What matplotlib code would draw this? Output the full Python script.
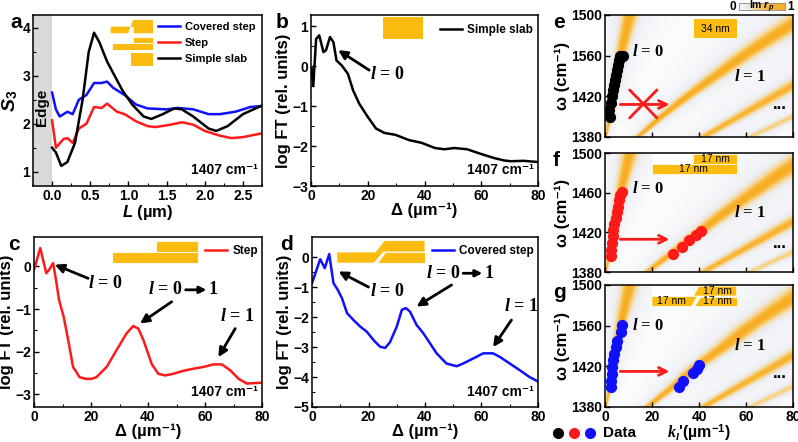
import numpy as np
import matplotlib
matplotlib.use("Agg")
import matplotlib.pyplot as plt
from matplotlib.colors import LinearSegmentedColormap
from matplotlib.patches import Rectangle, Polygon
from matplotlib.lines import Line2D

plt.rcParams['font.family'] = ['Liberation Sans', 'DejaVu Sans']
plt.rcParams['font.weight'] = 'bold'
plt.rcParams['axes.labelweight'] = 'bold'
plt.rcParams['mathtext.fontset'] = 'custom'
plt.rcParams['mathtext.it'] = 'Liberation Serif:bold:italic'
plt.rcParams['mathtext.rm'] = 'Liberation Serif:bold'
plt.rcParams['mathtext.bf'] = 'Liberation Sans:bold'
plt.rcParams['mathtext.sf'] = 'Liberation Sans:bold:italic'
plt.rcParams['axes.linewidth'] = 1.1

ORANGE = '#fbbb0f'

# ---- panel a: S3 vs L
blue_L = [0.0, 0.05, 0.1, 0.2, 0.27, 0.35, 0.45, 0.55, 0.65, 0.72, 0.8, 0.95, 1.1, 1.25, 1.5, 1.65, 1.85, 2.05, 2.2, 2.4, 2.6, 2.75]
blue_S = [2.65, 2.3, 2.15, 2.25, 2.2, 2.5, 2.6, 2.85, 2.85, 2.88, 2.75, 2.6, 2.4, 2.32, 2.3, 2.33, 2.3, 2.2, 2.2, 2.25, 2.35, 2.37]
red_L = [0.0, 0.05, 0.15, 0.2, 0.27, 0.35, 0.45, 0.55, 0.65, 0.72, 0.85, 0.95, 1.1, 1.25, 1.35, 1.55, 1.7, 1.85, 2.0, 2.2, 2.35, 2.5, 2.75]
red_S = [2.07, 1.5, 1.68, 1.7, 1.6, 1.9, 2.0, 2.35, 2.33, 2.42, 2.25, 2.2, 2.05, 1.95, 1.93, 1.98, 2.03, 1.98, 1.85, 1.75, 1.7, 1.72, 1.8]
black_L = [0.0, 0.05, 0.12, 0.2, 0.3, 0.4, 0.48, 0.55, 0.62, 0.72, 0.82, 0.92, 1.05, 1.2, 1.3, 1.45, 1.6, 1.7, 1.85, 2.05, 2.15, 2.3, 2.5, 2.75]
black_S = [1.5, 1.4, 1.12, 1.2, 1.6, 2.5, 3.5, 3.9, 3.7, 3.3, 3.0, 2.7, 2.4, 2.15, 2.1, 2.2, 2.32, 2.3, 2.15, 1.9, 1.85, 1.95, 2.2, 2.38]

# ---- panel b: simple slab FT
b_x = [0.2, 0.8, 1.8, 2.9, 4.4, 5.3, 6.7, 7.9, 9.0, 10.8, 13.0, 14.8, 17.0, 20.0, 22.9, 25.8, 29.8, 34.5, 39.0, 43.7, 47.0, 50.6, 55.0, 60.0, 64.5, 68.0, 70.3, 75.0, 80.0]
b_y = [-0.05, -0.5, 0.68, 0.77, 0.35, 0.4, 0.73, 0.6, 0.14, 0.02, -0.19, -0.6, -0.94, -1.27, -1.56, -1.67, -1.72, -1.85, -1.92, -2.05, -2.08, -2.05, -2.08, -2.2, -2.3, -2.36, -2.38, -2.37, -2.4]

# ---- panel c: step FT
c_x = [0, 2.2, 4.3, 5.3, 6.7, 7.6, 8.8, 10.4, 12.0, 13.7, 16.0, 18.2, 20.2, 21.9, 25.5, 29.0, 32.5, 34.8, 36.6, 38.4, 41.3, 43.6, 46.0, 48.9, 52.4, 56.0, 59.5, 63.0, 65.9, 68.9, 71.8, 74.7, 80.0]
c_y = [-0.08, 0.43, -0.16, -0.08, 0.08, -0.27, -0.79, -1.18, -1.73, -2.36, -2.6, -2.64, -2.64, -2.6, -2.36, -1.96, -1.57, -1.4, -1.46, -1.73, -2.29, -2.52, -2.56, -2.52, -2.45, -2.4, -2.36, -2.3, -2.3, -2.44, -2.64, -2.75, -2.73]

# ---- panel d: covered step FT
d_x = [0, 1.2, 2.9, 4.5, 6.1, 7.6, 9.1, 10.6, 12.4, 14.7, 17.1, 19.4, 21.8, 24.1, 25.9, 27.6, 30.0, 31.8, 33.2, 34.7, 37.0, 39.4, 41.8, 44.1, 47.6, 51.2, 53.5, 57.1, 60.6, 64.1, 66.5, 70.0, 73.5, 77.0, 80.0]
d_y = [-0.87, -0.54, -0.07, -0.37, 0.1, -0.87, -1.09, -1.37, -1.87, -2.1, -2.32, -2.49, -2.77, -2.99, -3.03, -2.84, -2.32, -1.76, -1.7, -1.82, -2.26, -2.54, -2.88, -3.21, -3.55, -3.64, -3.55, -3.38, -3.21, -3.21, -3.33, -3.55, -3.77, -4.0, -4.15]

# ---- panels e-g: mode band centres (k vs omega) and measured points
band_w = [1380, 1400, 1420, 1440, 1460, 1480, 1500]
l0_k = [0.3, 2.0, 3.4, 4.8, 6.5, 8.5, 10.5]
l1_k_e = [14, 24, 35, 47, 59, 72, 86]
l1_k_f = [18, 29, 40, 51, 63, 75, 88]
l1_k_g = [18, 29, 39, 51, 62, 75, 88]
l2_k = [42, 57, 72, 87, 102, 117, 132]
l3_k = [62, 80, 98, 116, 134, 152, 170]

e_k0 = [2.1, 1.8, 2.4, 2.8, 3.3, 3.7, 4.1, 4.5, 5.1, 5.5, 6.0, 6.4, 7.8]
e_w0 = [1399.7, 1406.9, 1413.4, 1419.9, 1425.8, 1431.4, 1436.3, 1441.2, 1446.1, 1451.0, 1455.9, 1459.2, 1459.8]
f_k0 = [2.4, 2.4, 2.8, 3.3, 3.6, 4.0, 4.5, 5.0, 5.4, 5.8, 6.4, 7.1]
f_w0 = [1396, 1402, 1409, 1416, 1422.5, 1428, 1434, 1440.5, 1445.7, 1452.6, 1457.8, 1461]
f_k1 = [29.1, 32.7, 35.9, 38.8, 40.9]
f_w1 = [1398, 1405, 1412, 1417, 1421]
g_k0 = [2.4, 2.4, 2.8, 3.1, 3.6, 4.0, 4.5, 5.0, 6.7, 7.4]
g_w0 = [1399.6, 1406, 1412.7, 1419, 1425.8, 1432, 1439, 1445, 1453.5, 1460.7]
g_k1 = [31.4, 33.4, 37.4, 39.1, 40.2]
g_w1 = [1399.6, 1406, 1413, 1417.6, 1421.8]

W_TICKS = [1380, 1420, 1460, 1500]
e_wlabels = ['1380', '1420', '1560', '1500']
f_wlabels = ['1380', '1420', '1460', '1500']
g_wlabels = ['1380', '1420', '1560', '1500']

fig = plt.figure(figsize=(7.98, 4.42), dpi=100)

def style(ax):
    ax.tick_params(direction='in', length=3.5, width=1, labelsize=10, pad=2)
    ax.tick_params(which='minor', direction='in', length=2, width=0.8)
    for lab in ax.get_xticklabels() + ax.get_yticklabels():
        lab.set_fontweight('bold')

def l_text(ax, x, y, s, size=13):
    ax.text(x, y, s, fontsize=size, family='Liberation Serif', fontweight='bold', ha='center', va='center')

def arrow(ax, tail, head, lw=2, ms=13):
    ax.annotate('', xy=head, xytext=tail,
                arrowprops=dict(arrowstyle='-|>', color='k', lw=lw, mutation_scale=ms, shrinkA=0, shrinkB=0))

def l01_text(ax, x0, x1, x2, x3, y):
    # "l = 0 -> 1" built from two texts and a drawn arrow
    l_text(ax, x0, y, '$l$ = 0')
    arrow(ax, (x1, y), (x2, y), lw=2, ms=10)
    l_text(ax, x3, y, '1')

def legend_at(ax, x, y, fs=8.5, hl=1.9, sp=0.45):
    ax.legend(loc='center left', bbox_to_anchor=(x, y), frameon=False, fontsize=fs,
              handlelength=hl, handletextpad=0.4, borderpad=0, borderaxespad=0, labelspacing=sp)

# ================= a
ax = fig.add_axes([33/798, 1-186/442, 229/798, 171/442])
ax.axvspan(-0.25, 0, color='#d9d9d9', lw=0)
ax.plot(blue_L, blue_S, color='#1010ff', lw=1.8, label='Covered step')
ax.plot(red_L, red_S, color='#ff1a1a', lw=1.8, label='Step')
ax.plot(black_L, black_S, color='k', lw=1.8, label='Simple slab')
ax.set_xlim(-0.25, 2.75)
ax.set_ylim(0.7, 4.27)
ax.set_xticks([0, 0.5, 1.0, 1.5, 2.0, 2.5])
ax.set_xticklabels(['0.0', '0.5', '1.0', '1.5', '2.0', '2.5'])
ax.set_yticks([1, 2, 3, 4])
ax.set_xticks(np.arange(-0.25, 2.76, 0.25), minor=True)
ax.set_yticks([1.5, 2.5, 3.5], minor=True)
ax.set_xlabel('$\\mathsf{L}$ (µm)', fontsize=12, labelpad=0)
ax.set_ylabel('$\\mathsf{S}_{\\mathbf{3}}$', fontsize=14, labelpad=2)
ax.text(-0.13, 2.35, 'Edge', rotation=90, fontsize=11, ha='center', va='center')
ax.text(0.98, 0.05, '1407 cm⁻¹', transform=ax.transAxes, ha='right', va='bottom', fontsize=10)
legend_at(ax, 0.546, 0.838, fs=8, hl=2.0, sp=0.55)
# schematic icons
tr = ax.transAxes
ax.add_patch(Polygon([(0.339, 0.893), (0.415, 0.893), (0.437, 0.971), (0.524, 0.971), (0.524, 0.893),
                      (0.44, 0.893), (0.44, 0.93), (0.42, 0.932), (0.339, 0.932)],
                     closed=True, transform=tr, color=ORANGE, lw=0))
ax.add_patch(Rectangle((0.346, 0.796), 0.178, 0.043, transform=tr, fc=ORANGE, ec='white', lw=0.6))
ax.add_patch(Rectangle((0.437, 0.839), 0.087, 0.035, transform=tr, fc=ORANGE, ec='white', lw=0.6))
ax.add_patch(Rectangle((0.426, 0.699), 0.098, 0.078, transform=tr, fc=ORANGE, lw=0))
style(ax)
fig.text(10/798, 1-22/442, 'a', fontsize=15, fontweight='bold', va='center')

# ================= b
ax = fig.add_axes([311/798, 1-186/442, 227/798, 171/442])
ax.plot(b_x, b_y, color='k', lw=1.8, label='Simple slab')
ax.set_xlim(0, 80)
ax.set_ylim(-3, 1.28)
ax.set_xticks([0, 20, 40, 60, 80])
ax.set_xticks([10, 30, 50, 70], minor=True)
ax.set_yticks([-3, -2, -1, 0, 1])
ax.set_yticks([-2.5, -1.5, -0.5, 0.5], minor=True)
ax.set_xlabel('Δ (µm⁻¹)', fontsize=12, labelpad=0)
ax.set_ylabel('log FT (rel. units)', fontsize=12, labelpad=1)
ax.add_patch(Rectangle((25.2, 0.67), 14.1, 0.56, fc=ORANGE, lw=0))
legend_at(ax, 0.568, 0.912)
arrow(ax, (20.5, -0.1), (9.6, 0.4))
l_text(ax, 27, -0.2, '$l$ = 0')
ax.text(0.98, 0.05, '1407 cm⁻¹', transform=ax.transAxes, ha='right', va='bottom', fontsize=10)
style(ax)
fig.text(276/798, 1-22/442, 'b', fontsize=15, fontweight='bold', va='center')

# ================= c
ax = fig.add_axes([34/798, 1-407/442, 228/798, 170/442])
ax.plot(c_x, c_y, color='#ff1a1a', lw=1.8, label='Step')
ax.set_xlim(0, 80)
ax.set_ylim(-3.3, 0.69)
ax.set_xticks([0, 20, 40, 60, 80])
ax.set_xticks([10, 30, 50, 70], minor=True)
ax.set_yticks([-3, -2, -1, 0])
ax.set_yticks([-2.5, -1.5, -0.5], minor=True)
ax.set_xlabel('Δ (µm⁻¹)', fontsize=12, labelpad=0)
ax.set_ylabel('log FT (rel. units)', fontsize=12, labelpad=1)
ax.add_patch(Rectangle((27.4, 0.09), 30, 0.25, fc=ORANGE, ec='white', lw=0.6))
ax.add_patch(Rectangle((42.7, 0.34), 14.7, 0.26, fc=ORANGE, ec='white', lw=0.6))
legend_at(ax, 0.75, 0.915)
arrow(ax, (19, -0.28), (7.3, 0.04))
l_text(ax, 24.9, -0.4, '$l$ = 0')
arrow(ax, (48.3, -0.83), (37.2, -1.34))
l01_text(ax, 46.0, 53.2, 60.5, 62.8, -0.55)
arrow(ax, (70.6, -1.46), (64.7, -2.13))
l_text(ax, 71.2, -1.18, '$l$ = 1')
ax.text(0.98, 0.05, '1407 cm⁻¹', transform=ax.transAxes, ha='right', va='bottom', fontsize=10)
style(ax)
fig.text(8/798, 1-245/442, 'c', fontsize=15, fontweight='bold', va='center')

# ================= d
ax = fig.add_axes([312/798, 1-407/442, 226/798, 170/442])
ax.plot(d_x, d_y, color='#1010ff', lw=1.8, label='Covered step')
ax.set_xlim(0, 80)
ax.set_ylim(-5, 0.67)
ax.set_xticks([0, 20, 40, 60, 80])
ax.set_xticks([10, 30, 50, 70], minor=True)
ax.set_yticks([-5, -4, -3, -2, -1, 0])
ax.set_yticks([-4.5, -3.5, -2.5, -1.5, -0.5], minor=True)
ax.set_xlabel('Δ (µm⁻¹)', fontsize=12, labelpad=0)
ax.set_ylabel('log FT (rel. units)', fontsize=12, labelpad=1)
ax.add_patch(Polygon([(8.8, -0.2), (22.0, -0.2), (25.3, 0.17), (40, 0.17), (40, 0.55), (25.6, 0.55),
                      (22.4, 0.17), (8.8, 0.17)], closed=True, fc=ORANGE, ec='white', lw=0.6))
ax.add_patch(Polygon([(23.0, -0.2), (40, -0.2), (40, 0.17), (26.0, 0.17)], closed=True,
                     fc=ORANGE, ec='white', lw=0.6))
legend_at(ax, 0.531, 0.918)
arrow(ax, (20, -1.0), (9.4, -0.48))
l_text(ax, 26.5, -1.15, '$l$ = 0')
arrow(ax, (49.4, -0.93), (37, -1.65))
l01_text(ax, 46.3, 53.5, 60.3, 62.5, -0.54)
arrow(ax, (70.6, -2.1), (64.1, -3.0))
l_text(ax, 74, -1.65, '$l$ = 1')
ax.text(0.98, 0.05, '1407 cm⁻¹', transform=ax.transAxes, ha='right', va='bottom', fontsize=10)
style(ax)
fig.text(280/798, 1-245/442, 'd', fontsize=15, fontweight='bold', va='center')

# ================= e, f, g
cmap = LinearSegmentedColormap.from_list('imrp', [(0, '#ffffff'), (0.04, '#f4f6f9'), (0.15, '#eceef2'),
                                                  (0.35, '#f6d690'), (0.6, '#f8b83c'), (1, '#f7ad22')])
k_grid = np.linspace(0, 80, 500)
w_grid = np.linspace(1380, 1500, 300)
K = k_grid[None, :]

def band_map(l1_k):
    img = np.zeros((len(w_grid), len(k_grid)))
    for kc_list, rel, amp in [(l0_k, 0.18, 1.0), (l1_k, 0.05, 1.0), (l2_k, 0.04, 0.75), (l3_k, 0.035, 0.4)]:
        kc = np.interp(w_grid, band_w, kc_list)[:, None]
        hw = rel * kc + 0.25
        img += amp / (1 + ((K - kc) / hw) ** 2)
    return np.clip(img, 0, 1)

def dispersion(rect, l1_k, labels, letter, ly):
    ax = fig.add_axes(rect)
    ax.imshow(band_map(l1_k), extent=[0, 80, 1380, 1500], origin='lower', aspect='auto',
              cmap=cmap, vmin=0, vmax=1, interpolation='bilinear')
    ax.set_xlim(0, 80)
    ax.set_ylim(1380, 1500)
    ax.set_xticks([0, 20, 40, 60, 80])
    ax.set_yticks(W_TICKS)
    ax.set_yticklabels(labels)
    ax.set_ylabel('ω (cm⁻¹)', fontsize=12, labelpad=1)
    style(ax)
    fig.text(553/798, 1-ly/442, letter, fontsize=15, fontweight='bold', va='center')
    return ax

ax_e = dispersion([605/798, 1-137/442, 188/798, 122/442], l1_k_e, e_wlabels, 'e', 22)
ax_e.set_xticklabels([])
ax_e.scatter(e_k0, e_w0, s=50, color='k', zorder=3)
ax_e.annotate('', xy=(27.4, 1412), xytext=(6.5, 1412),
              arrowprops=dict(arrowstyle='->', color='#ff1a1a', lw=2, mutation_scale=14, shrinkA=0, shrinkB=0))
ax_e.plot([10.6, 22], [1426, 1399], color='#ff1a1a', lw=2)
ax_e.plot([10.6, 22], [1399, 1426], color='#ff1a1a', lw=2)
l_text(ax_e, 18.5, 1464, '$l$ = 0', 12)
l_text(ax_e, 61.8, 1439, '$l$ = 1', 12)
ax_e.text(74.6, 1412, '...', fontsize=12, ha='center', va='center')
ax_e.add_patch(Rectangle((38, 1477), 18, 19, fc=ORANGE, lw=0))
ax_e.text(47, 1486.5, '34 nm', fontsize=7.5, fontweight='normal', ha='center', va='center')

ax_f = dispersion([605/798, 1-272/442, 188/798, 119/442], l1_k_f, f_wlabels, 'f', 160)
ax_f.set_xticklabels([])
ax_f.scatter(f_k0, f_w0, s=50, color='#ff1a1a', zorder=3)
ax_f.scatter(f_k1, f_w1, s=50, color='#ff1a1a', zorder=3)
ax_f.annotate('', xy=(27.4, 1413), xytext=(6.5, 1413),
              arrowprops=dict(arrowstyle='->', color='#ff1a1a', lw=2, mutation_scale=14, shrinkA=0, shrinkB=0))
l_text(ax_f, 18.5, 1464, '$l$ = 0', 12)
l_text(ax_f, 61.8, 1439, '$l$ = 1', 12)
ax_f.text(74.6, 1409, '...', fontsize=12, ha='center', va='center')
trf = ax_f.transAxes
ax_f.add_patch(Rectangle((0.25, 0.91), 0.22, 0.08, transform=trf, fc='white', lw=0))
ax_f.add_patch(Rectangle((0.47, 0.91), 0.23, 0.08, transform=trf, fc=ORANGE, ec='white', lw=0.5))
ax_f.add_patch(Rectangle((0.25, 0.825), 0.45, 0.08, transform=trf, fc=ORANGE, ec='white', lw=0.5))
ax_f.text(0.585, 0.95, '17 nm', transform=trf, fontsize=7.5, fontweight='normal', ha='center', va='center')
ax_f.text(0.47, 0.865, '17 nm', transform=trf, fontsize=7.5, fontweight='normal', ha='center', va='center')

ax_g = dispersion([605/798, 1-407/442, 188/798, 122/442], l1_k_g, g_wlabels, 'g', 292)
ax_g.set_xlabel("$k_l$'(µm$^{\\mathbf{-1}}$)", fontsize=11.5, labelpad=-1)
ax_g.scatter(g_k0, g_w0, s=50, color='#1010ff', zorder=3)
ax_g.scatter(g_k1, g_w1, s=50, color='#1010ff', zorder=3)
ax_g.annotate('', xy=(27.4, 1415), xytext=(6.5, 1415),
              arrowprops=dict(arrowstyle='->', color='#ff1a1a', lw=2, mutation_scale=14, shrinkA=0, shrinkB=0))
l_text(ax_g, 18.5, 1460, '$l$ = 0', 12)
l_text(ax_g, 61.8, 1440, '$l$ = 1', 12)
ax_g.text(74.6, 1413, '...', fontsize=12, ha='center', va='center')
trg = ax_g.transAxes
ax_g.add_patch(Rectangle((0.25, 0.91), 0.22, 0.08, transform=trg, fc='white', lw=0))
ax_g.add_patch(Polygon([(0.47, 0.91), (0.50, 0.99), (0.70, 0.99), (0.70, 0.91)], closed=True,
                       transform=trg, fc=ORANGE, ec='white', lw=0.5))
ax_g.add_patch(Polygon([(0.25, 0.825), (0.46, 0.825), (0.49, 0.905), (0.25, 0.905)], closed=True,
                       transform=trg, fc=ORANGE, ec='white', lw=0.5))
ax_g.add_patch(Polygon([(0.475, 0.825), (0.70, 0.825), (0.70, 0.905), (0.505, 0.905)], closed=True,
                       transform=trg, fc=ORANGE, ec='white', lw=0.5))
ax_g.text(0.6, 0.95, '17 nm', transform=trg, fontsize=7.5, fontweight='normal', ha='center', va='center')
ax_g.text(0.355, 0.865, '17 nm', transform=trg, fontsize=7.5, fontweight='normal', ha='center', va='center')
ax_g.text(0.6, 0.865, '17 nm', transform=trg, fontsize=7.5, fontweight='normal', ha='center', va='center')

# data legend below g
for x, c in zip([558, 574, 590], ['k', '#ff1a1a', '#1010ff']):
    fig.add_artist(Line2D([x/798], [1-433/442], marker='o', markersize=7, color=c, ls='none'))
fig.text(603/798, 1-433/442, 'Data', fontsize=11, fontweight='bold', va='center')

# colour bar
cax = fig.add_axes([739/798, 1-10/442, 46/798, 7/442])
cax.imshow(np.linspace(0, 1, 100)[None, :], aspect='auto', cmap=cmap, extent=[0, 1, 0, 1])
cax.set_xticks([])
cax.set_yticks([])
for s in cax.spines.values():
    s.set_linewidth(0.6)
    s.set_color('#888888')
cax.text(0.5, 0.45, 'Im $\\mathsf{r_p}$', transform=cax.transAxes, fontsize=7.5, ha='center', va='center')
fig.text(733/798, 1-7/442, '0', fontsize=8.5, fontweight='bold', ha='center', va='center')
fig.text(791/798, 1-7/442, '1', fontsize=8.5, fontweight='bold', ha='center', va='center')

fig.savefig('out.png', dpi=100)
